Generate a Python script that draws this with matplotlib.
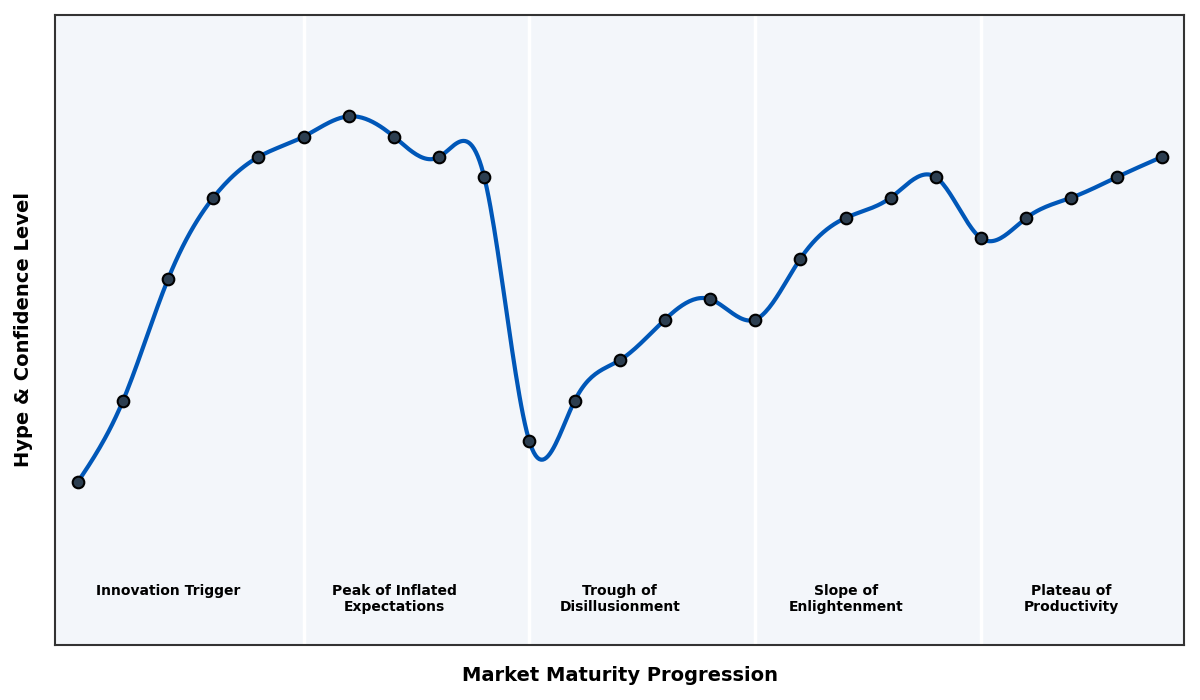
import numpy as np
import matplotlib
matplotlib.use('Agg')
import matplotlib.pyplot as plt

# hype level per time step
steps = list(range(25))
hype = [10, 30, 60, 80, 90, 95, 100, 95, 90, 85,
        20, 30, 40, 50, 55, 50, 65, 75, 80, 85,
        70, 75, 80, 85, 90]
phases = ['Innovation Trigger', 'Peak of Inflated\nExpectations',
          'Trough of\nDisillusionment', 'Slope of\nEnlightenment',
          'Plateau of\nProductivity']
phase_len = 5


def natural_spline(x, y, xs):
    x = np.asarray(x, float)
    y = np.asarray(y, float)
    n = len(x)
    h = np.diff(x)
    A = np.zeros((n, n))
    b = np.zeros(n)
    A[0, 0] = A[-1, -1] = 1
    for i in range(1, n - 1):
        A[i, i - 1] = h[i - 1]
        A[i, i] = 2 * (h[i - 1] + h[i])
        A[i, i + 1] = h[i]
        b[i] = 6 * ((y[i + 1] - y[i]) / h[i] - (y[i] - y[i - 1]) / h[i - 1])
    M = np.linalg.solve(A, b)
    idx = np.clip(np.searchsorted(x, xs) - 1, 0, n - 2)
    x0, x1 = x[idx], x[idx + 1]
    hh = x1 - x0
    t0 = x1 - xs
    t1 = xs - x0
    return (M[idx] * t0**3 / (6 * hh) + M[idx + 1] * t1**3 / (6 * hh)
            + (y[idx] / hh - M[idx] * hh / 6) * t0
            + (y[idx + 1] / hh - M[idx + 1] * hh / 6) * t1)


fig, ax = plt.subplots(figsize=(12, 7), dpi=100)
ax.set_facecolor('#f3f6fa')

xs = np.linspace(steps[0], steps[-1], 600)
ax.plot(xs, natural_spline(steps, hype, xs), color='#0057b8', lw=3, zorder=3)
ax.scatter(steps, hype, s=70, color='#2c3e50', edgecolor='black', lw=1.5, zorder=4)

for k in range(1, len(phases)):
    ax.axvline(k * phase_len, color='white', lw=2.5, zorder=1)
for k, name in enumerate(phases):
    ax.text(k * phase_len + 2, -15, name, ha='center', va='top',
            fontsize=10, fontweight='bold')

ax.set_xlim(-0.5, 24.5)
ax.set_ylim(-30, 125)
ax.set_xticks([])
ax.set_yticks([])
for s in ax.spines.values():
    s.set_color('#333333')
    s.set_linewidth(1.5)
ax.set_xlabel('Market Maturity Progression', fontsize=14, fontweight='bold', labelpad=15)
ax.set_ylabel('Hype & Confidence Level', fontsize=14, fontweight='bold', labelpad=16)

plt.subplots_adjust(left=0.046, right=0.987, top=0.979, bottom=0.079)
plt.savefig('out.png', dpi=100)
